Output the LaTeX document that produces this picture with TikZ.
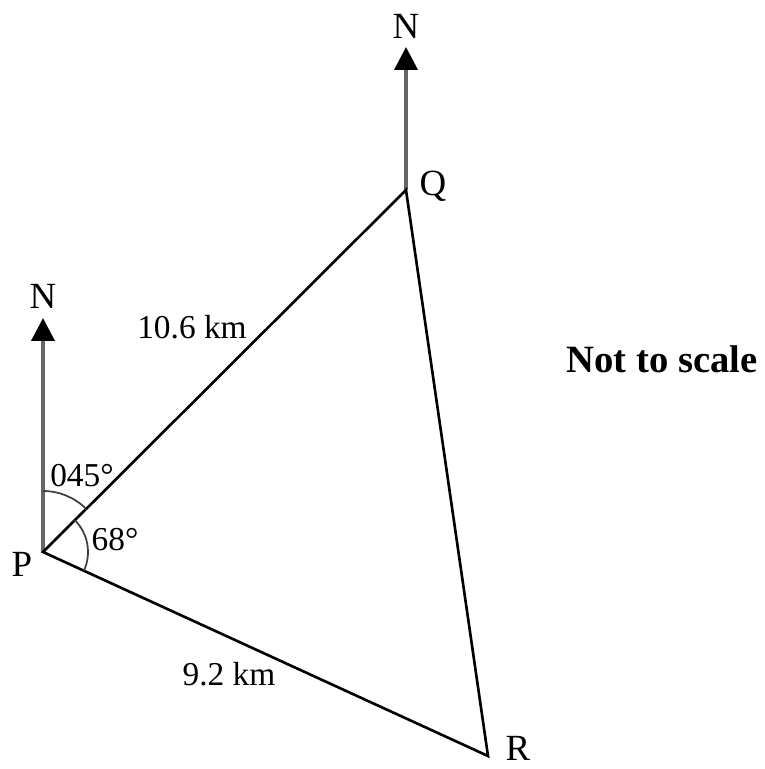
\documentclass[tikz,border=0pt]{standalone}
\usepackage{fontspec}
\setmainfont{Liberation Serif}
\usetikzlibrary{arrows.meta}
\tikzset{
 north/.style={draw=black!60,line width=2.2pt,-{Triangle[length=13pt,width=13pt,color=black]}},
 side/.style={line width=1.5pt,line join=miter},
 lbl/.style={font=\fontsize{19}{22}\selectfont,inner sep=0pt},
 pt/.style={font=\fontsize{21}{24}\selectfont,inner sep=0pt}
}
\begin{document}
\begin{tikzpicture}[x=0.02cm,y=0.02cm]
 \useasboundingbox (0,0) rectangle (765,769);
 \coordinate (P) at (43,217);
 \coordinate (Q) at (406,579);
 \coordinate (R) at (488,13);
 \coordinate (PN) at (43,451);
 \coordinate (QN) at (406,722);
 \draw[north] (P)--(PN);
 \draw[north] (Q)--(QN);
 \draw[side] (P)--(Q)--(R)--cycle;
 \draw[line width=1pt,black!75] ([shift={(90:61)}]P) arc[start angle=90,end angle=45,radius=61];
 \draw[line width=1pt,black!75] ([shift={(45:45)}]P) arc[start angle=45,end angle=-24.6,radius=45];
 \node[pt] (nP) at (43,473) {N};
 \node[pt] (nQ) at (406,743) {N};
 \node[pt] (lP) at (22,205) {P};
 \node[pt] (lQ) at (433,583) {Q};
 \node[pt] (lR) at (518,21) {R};
 \node[lbl] (dPQ) at (192,442) {10.6 km};
 \node[lbl] (dPR) at (229,95) {9.2 km};
 \node[lbl] (aN) at (82,293) {045°};
 \node[lbl] (aR) at (115,229) {68°};
 \node[font=\bfseries\fontsize{22}{26}\selectfont,inner sep=0pt] (note) at (662,410) {Not to scale};
\end{tikzpicture}
\end{document}
